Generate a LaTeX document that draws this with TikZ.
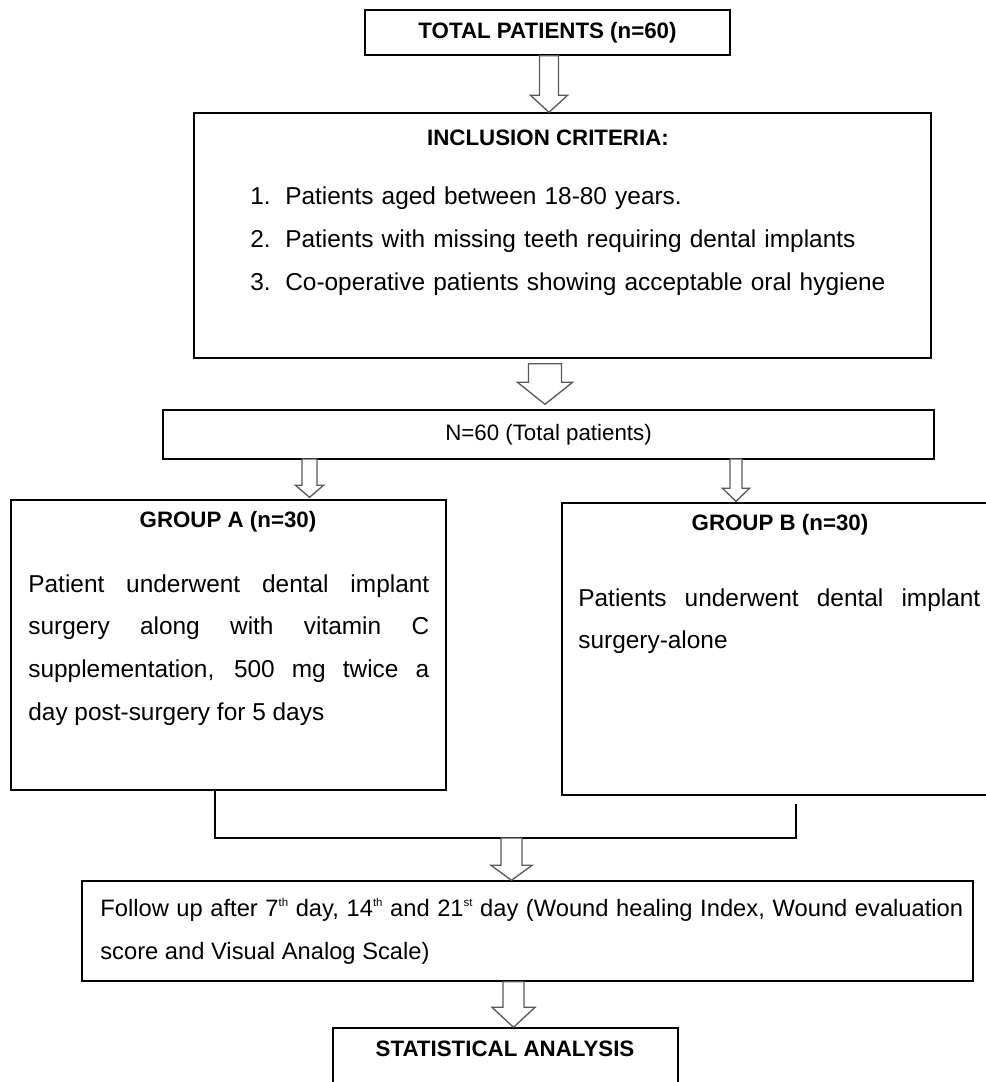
\documentclass[tikz,border=0pt]{standalone}
\usepackage{fontspec}
\setmainfont{Liberation Sans}
\usetikzlibrary{calc}

\newcommand{\bodyfont}{\fontsize{13.9}{24.4}\selectfont}
\newcommand{\ttlfont}{\fontsize{12.7}{15}\selectfont\bfseries}
\newcommand{\supx}[1]{\raisebox{0.75ex}{\fontsize{6.5}{7}\selectfont #1}}

\tikzstyle{bS}=[draw=black,line width=0.8pt,inner sep=0pt,fill=white]
\tikzstyle{tS}=[inner sep=0pt,font=\ttlfont]
\tikzstyle{lS}=[inner sep=0pt,font=\bodyfont,align=left,text width=13cm]
\tikzstyle{jS}=[inner sep=0pt,font=\bodyfont,align=justify]
\tikzstyle{aS}=[draw=black!65,line width=0.75pt,fill=white,line join=miter]
\tikzstyle{mS}=[draw=black,line width=1.1pt]

% hollow block arrow: start, tip, shaft half width, head half width, head length
\newcommand{\blkarrow}[5]{%
  \draw[aS] ($(#1)+(-#3,0)$) -- ($(#2)+(-#3,-#5)$) -- ($(#2)+(-#4,-#5)$) -- (#2)
    -- ($(#2)+(#4,-#5)$) -- ($(#2)+(#3,-#5)$) -- ($(#1)+(#3,0)$) -- cycle;}

\begin{document}
\begin{tikzpicture}[x=0.02cm,y=-0.02cm]
  \clip (0,0) rectangle (986,1082);
  \fill[white] (0,0) rectangle (986,1082);

  \draw (547.5,32.5) node[bS,minimum width=7.3cm,minimum height=0.9cm,font=\ttlfont] (tot) {TOTAL PATIENTS (n=60)};

  \draw (562.5,235.5) node[bS,minimum width=14.74cm,minimum height=4.9cm] (incl) {};
  \draw (548,138) node[tS] (inclT) {INCLUSION CRITERIA:};
  \draw (250,204.5) node[lS,anchor=base west] (inclL) {%
    \makebox[0.7cm][l]{1.}Patients aged between 18-80 years.\\
    \makebox[0.7cm][l]{2.}Patients with missing teeth requiring dental implants\\
    \makebox[0.7cm][l]{3.}Co-operative patients showing acceptable oral hygiene};

  \draw (548.5,434.5) node[bS,minimum width=15.42cm,minimum height=0.98cm,font=\fontsize{12.7}{15}\selectfont] (n60) {N=60 (Total patients)};

  \draw (228.5,645) node[bS,minimum width=8.7cm,minimum height=5.8cm] (grpA) {};
  \draw (228,522) node[tS] (grpAT) {GROUP A (n=30)};
  \draw (28,592) node[jS,anchor=base west,text width=8.02cm] (grpAL) {%
    Patient underwent dental implant\linebreak
    surgery along with vitamin C\linebreak
    supplementation, 500 mg twice a\linebreak
    day post-surgery for 5 days};

  \draw (778.5,649) node[bS,minimum width=8.66cm,minimum height=5.84cm] (grpB) {};
  \draw (780,525) node[tS] (grpBT) {GROUP B (n=30)};
  \draw (578,606) node[jS,anchor=base west,text width=8.04cm] (grpBL) {%
    Patients underwent dental implant\linebreak
    surgery-alone};

  \draw (527.5,931) node[bS,minimum width=17.82cm,minimum height=2.0cm] (fol) {};
  \draw (100,916) node[jS,anchor=base west,text width=17.26cm,font=\fontsize{13.5}{24.9}\selectfont] (folL) {%
    Follow up after 7\supx{th} day, 14\supx{th} and 21\supx{st} day (Wound healing Index, Wound evaluation\linebreak
    score and Visual Analog Scale)};

  \draw (505.5,1064) node[bS,minimum width=6.9cm,minimum height=1.44cm] (stat) {};
  \draw (505,1049) node[tS] (statT) {STATISTICAL ANALYSIS};

  % block arrows
  \coordinate (s1) at ($(tot.south)+(1.5,0)$);
  \coordinate (t1) at (s1 |- incl.north);
  \blkarrow{s1}{t1}{9.5}{18.5}{17}
  \coordinate (s2) at ($(incl.south)+(-17.5,5)$);
  \coordinate (t2) at ($(s2 |- n60.north)+(0,-5)$);
  \blkarrow{s2}{t2}{16.5}{27.5}{22}
  \coordinate (s3) at (309.5,459);
  \coordinate (t3) at ($(s3 |- grpA.north)+(0,-2)$);
  \blkarrow{s3}{t3}{7.5}{14}{12}
  \coordinate (s4) at (736,459);
  \coordinate (t4) at ($(s4 |- grpB.north)+(0,-1)$);
  \blkarrow{s4}{t4}{6}{13.5}{13}

  % joining lines
  \coordinate (mA) at ($(grpA.south)+(-13.5,0)$);
  \coordinate (mB) at ($(grpB.south)+(17.5,8)$);
  \coordinate (mJ) at (511.5,838);
  \draw[mS] (mA) -- (mA |- mJ) -- (mB |- mJ) -- (mB);
  \coordinate (t5) at (mJ |- fol.north);
  \blkarrow{mJ}{t5}{10.5}{20.5}{15}
  \coordinate (s6) at ($(fol.south)+(-14,0)$);
  \coordinate (t6) at (s6 |- stat.north);
  \blkarrow{s6}{t6}{10.5}{21.5}{20}
\end{tikzpicture}
\end{document}
